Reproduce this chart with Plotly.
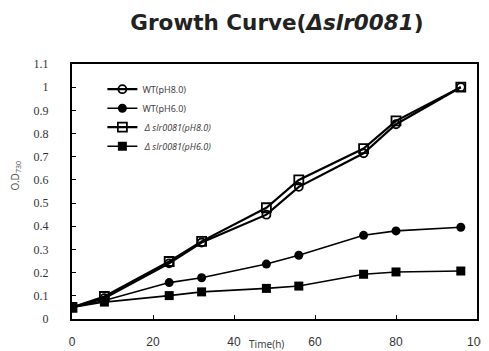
import plotly.graph_objects as go

time_h = [0, 8, 24, 32, 48, 56, 72, 80, 96]
wt_ph8 = [0.05, 0.09, 0.24, 0.33, 0.45, 0.57, 0.715, 0.84, 1.0]
wt_ph6 = [0.05, 0.08, 0.157, 0.178, 0.237, 0.275, 0.361, 0.38, 0.396]
del_ph8 = [0.05, 0.097, 0.248, 0.335, 0.48, 0.6, 0.735, 0.855, 1.0]
del_ph6 = [0.05, 0.073, 0.101, 0.117, 0.132, 0.142, 0.193, 0.203, 0.207]

series_names = ["WT(pH8.0)", "WT(pH6.0)",
                "<i> Δ slr0081(pH8.0)</i>", "<i> Δ slr0081(pH6.0)</i>"]
x_ticks = [0, 20, 40, 60, 80, 100]
y_ticks = [0, 0.1, 0.2, 0.3, 0.4, 0.5, 0.6, 0.7, 0.8, 0.9, 1, 1.1]

styles = [
    dict(symbol="circle-open", size=8, lw=2.2, mlw=1.8),
    dict(symbol="circle", size=9, lw=1.6, mlw=0),
    dict(symbol="square-open", size=9, lw=2.2, mlw=1.8),
    dict(symbol="square", size=9, lw=1.6, mlw=0),
]

fig = go.Figure()
for name, ys, st in zip(series_names, [wt_ph8, wt_ph6, del_ph8, del_ph6], styles):
    fig.add_trace(go.Scatter(
        x=time_h, y=ys, name=name, mode="lines+markers",
        line=dict(color="black", width=st["lw"]),
        marker=dict(symbol=st["symbol"], size=st["size"], color="black",
                    line=dict(color="black", width=st["mlw"])),
    ))

fig.update_layout(
    width=489, height=351,
    margin=dict(l=64, r=10, t=56, b=31),
    paper_bgcolor="white", plot_bgcolor="white",
    title=dict(text="Growth Curve(<i>Δslr0081</i>)", x=0.55, xref="container",
               xanchor="center", y=0.96, yref="container", yanchor="middle",
               font=dict(family="DejaVu Sans", size=21.5, color="#222", weight="bold")),
    showlegend=True,
    legend=dict(x=0.075, y=0.958, xanchor="left", yanchor="top",
                bgcolor="rgba(0,0,0,0)", borderwidth=0,
                font=dict(family="Noto Sans", size=9, color="#444"),
                tracegroupgap=0, itemwidth=30),
    xaxis=dict(range=[0, 100], tickvals=x_ticks, ticks="inside", ticklen=4,
               tickcolor="black", showline=True, linecolor="black", linewidth=2,
               mirror=True, showgrid=False, zeroline=False,
               ticklabelstandoff=11,
               tickfont=dict(family="Liberation Sans", size=12, color="#333")),
    yaxis=dict(range=[0, 1.1], tickvals=y_ticks, ticks="inside", ticklen=4,
               tickcolor="black", showline=True, linecolor="black", linewidth=2,
               mirror=True, showgrid=False, zeroline=False,
               ticklabelstandoff=19,
               tickfont=dict(family="Liberation Serif", size=12, color="#333")),
    annotations=[
        dict(text="O.D<sub>730</sub>", xref="paper", yref="paper", x=-0.14, y=0.56,
             xanchor="center", yanchor="middle", textangle=-90, showarrow=False,
             font=dict(family="Noto Sans", size=10, color="#555")),
        dict(text="Time(h)", xref="paper", yref="paper", x=0.48, y=-0.097,
             xanchor="center", yanchor="middle", showarrow=False,
             font=dict(family="Noto Sans", size=10, color="#444")),
    ],
)

fig.write_html("out.html")
